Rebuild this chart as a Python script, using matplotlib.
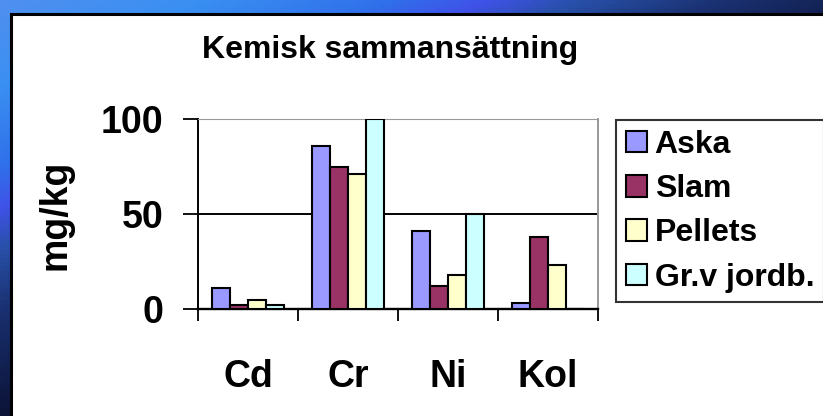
import matplotlib
matplotlib.use('Agg')
import matplotlib.pyplot as plt
import numpy as np
from matplotlib.colors import LinearSegmentedColormap
from matplotlib.patches import Rectangle, Patch

plt.rcParams['font.family'] = ['Liberation Sans', 'DejaVu Sans']
plt.rcParams['font.weight'] = 'bold'

# data
categories = ['Cd', 'Cr', 'Ni', 'Kol']
series = ['Aska', 'Slam', 'Pellets', 'Gr.v jordb.']
aska = [11, 86, 41, 3]
slam = [2, 75, 12, 38]
pellets = [5, 71, 18, 23]
grv = [2, 100, 50, 0]
colors = ['#9999FF', '#993366', '#FFFFCC', '#CCFFFF']
yticks = [0, 50, 100]

W, H = 823, 416
fig = plt.figure(figsize=(W / 100, H / 100), dpi=100)

# blue gradient backdrop
bg = fig.add_axes([0, 0, 1, 1], zorder=-10)
bg_cmap = LinearSegmentedColormap.from_list('bg', [
    (0.0, '#4f8ff0'), (0.2, '#3a90f2'), (0.4, '#3070ea'), (0.5, '#4052e8'),
    (0.6, '#2850a8'), (0.75, '#1a3070'), (1.0, '#0c1438')])
xx, yy = np.meshgrid(np.linspace(0, 1, 200), np.linspace(0, 1, 100))
bg.imshow(np.clip(0.85 * xx + yy, 0, 1), cmap=bg_cmap, aspect='auto',
          extent=[0, 1, 0, 1], origin='upper', vmin=0, vmax=1)
bg.set_xlim(0, 1)
bg.set_ylim(0, 1)
bg.axis('off')

# white panel with black edge (runs off the right and bottom edges)
fig.patches.append(Rectangle((10.5 / W, -0.1), 1.2, 1.1 - 13.5 / H, transform=fig.transFigure,
                             facecolor='white', edgecolor='black', lw=2.2, zorder=-5))

ax = fig.add_axes([198 / W, 1 - 309 / H, 400 / W, 190 / H])
ax.set_facecolor('none')

x = np.arange(1, len(categories) + 1)
bw = 0.182
offs = [-1.5 * bw, -0.5 * bw, 0.5 * bw, 1.5 * bw]
for vals, c, o, name in zip([aska, slam, pellets, grv], colors, offs, series):
    ax.bar(x + o, vals, width=bw, color=c, edgecolor='black', linewidth=1.5,
           label=name, zorder=3)

ax.set_xlim(0.5, len(categories) + 0.5)
ax.set_ylim(0, 100)
ax.set_yticks(yticks)
ax.set_yticklabels([str(v) for v in yticks], fontsize=27, fontweight='bold')
ax.tick_params(axis='y', direction='out', length=11, width=1.3, pad=14)

ax.set_xticks(np.arange(0.5, len(categories) + 1))
ax.set_xticklabels([])
ax.tick_params(axis='x', which='major', direction='out', length=8.6, width=1.3)
ax.set_xticks(x, minor=True)
ax.set_xticklabels(categories, minor=True, fontsize=27, fontweight='bold')
ax.tick_params(axis='x', which='minor', length=0, pad=36)

for v in yticks[1:]:
    ax.axhline(v, color='black', lw=1.4, zorder=1)

ax.spines['left'].set_linewidth(1.4)
ax.spines['bottom'].set_linewidth(1.7)
ax.spines['top'].set_color('#999999')
ax.spines['right'].set_color('#999999')
ax.spines['right'].set_linewidth(1.4)

fig.text(55 / W, 1 - 214.5 / H, 'mg/kg', rotation=90, ha='center', va='center',
         fontsize=27, fontweight='bold')
fig.text(390 / W, 1 - 58 / H, 'Kemisk sammansättning', ha='center', va='baseline',
         fontsize=23, fontweight='bold')

handles = [Patch(facecolor=c, edgecolor='black', linewidth=1.5) for c in colors]
leg = fig.legend(handles, series, loc='upper left',
                 bbox_to_anchor=(616 / W, 1 - 120 / H), bbox_transform=fig.transFigure,
                 prop={'weight': 'bold', 'size': 23},
                 frameon=True, fancybox=False, shadow=False, borderaxespad=0,
                 handlelength=0.66, handleheight=0.66, handletextpad=0.25,
                 labelspacing=0.45, borderpad=0.3)
leg.get_frame().set_edgecolor('black')
leg.get_frame().set_linewidth(1.5)

fig.savefig('out.png', dpi=100)
